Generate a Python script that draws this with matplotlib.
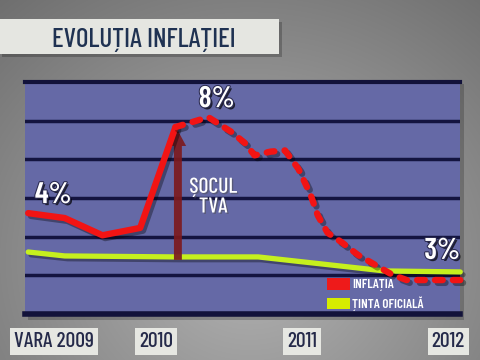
import numpy as np
import matplotlib
matplotlib.use("Agg")
import matplotlib.pyplot as plt
from matplotlib import patheffects as pe
from matplotlib.patches import Rectangle, FancyArrow, Patch

# ---------------- data ----------------
title = "EVOLUȚIA INFLAȚIEI"
tick_labels = ["VARA 2009", "2010", "2011", "2012"]
tick_months = [-8.4, 0, 12, 24]          # months relative to Jan 2010
legend_labels = ["INFLAȚIA", "ȚINTA OFICIALĂ"]

# inflation, actual (solid) – months rel. Jan 2010, level
infl_real_x = [-10.5, -7.5, -4.4, -1.3, 1.6]
infl_real_y = [4.1, 3.9, 3.2, 3.5, 7.6]
# inflation, forecast (dashed)
infl_prog_x = [1.6, 4.3, 6.2, 7.3, 8.1, 9.4, 10.6, 11.7, 12.7, 13.3, 14.1,
               15.3, 16.6, 18.0, 19.4, 20.6, 22.1, 23.7, 25.0]
infl_prog_y = [7.6, 8.0, 7.4, 6.95, 6.45, 6.6, 6.65, 5.9, 4.85, 4.0, 3.3,
               2.9, 2.4, 2.0, 1.6, 1.38, 1.38, 1.38, 1.38]
# official target
tinta_x = [-10.5, -7.5, 1.6, 8.4, 18.8, 25.0]
tinta_y = [2.52, 2.36, 2.32, 2.32, 1.75, 1.71]

value_labels = ["4%", "8%", "3%"]
shock_text = "ȘOCUL\nTVA"
shock_month = 1.8
shock_from, shock_to = 2.2, 7.45

# ---------------- fonts ----------------
plt.rcParams["font.family"] = ["Barlow Condensed", "DejaVu Sans"]

W, H = 480, 360
fig = plt.figure(figsize=(4.8, 3.6), dpi=100)

# background gradient
bg = fig.add_axes([0, 0, 1, 1], zorder=0)
yy, xx = np.mgrid[0:H, 0:W]
d = np.sqrt(((xx - 250) / 330.0) ** 2 + ((yy - 260) / 300.0) ** 2)
g = np.clip(0.70 - 0.23 * d, 0.38, 0.72)
bg.imshow(np.dstack([g, g, g]), extent=[0, W, H, 0], aspect="auto")
bg.set_xlim(0, W); bg.set_ylim(H, 0); bg.axis("off")

# title box
bg.add_patch(Rectangle((2, 22), 280, 35, fc="black", alpha=0.22, ec="none"))
bg.add_patch(Rectangle((0, 19), 279, 35, fc="#e5e6e1", ec="none"))
bg.text(143.5, 47, title, ha="center", va="baseline", fontsize=19.5,
        color="#1f3252", fontweight="medium")

# panel shadow
bg.add_patch(Rectangle((28, 84), 436, 236, fc="black", alpha=0.2, ec="none"))

# main axes
left, right, top, bottom = 25, 460, 82, 314
ax = fig.add_axes([left / W, 1 - bottom / H, (right - left) / W, (bottom - top) / H], zorder=2)
ax.set_facecolor("#6569a6")
px_month = 12.17
xmin = (left - 156) / px_month
xmax = (right - 156) / px_month
ax.set_xlim(xmin, xmax)
ymax = (bottom - top) / 24.6
ax.set_ylim(0, ymax)
for s in ["left", "right"]:
    ax.spines[s].set_visible(False)
ax.spines["top"].set_color("#12123a"); ax.spines["top"].set_linewidth(3)
ax.spines["bottom"].set_color("#12123a"); ax.spines["bottom"].set_linewidth(4)
ax.set_yticks(np.linspace(0, ymax, 7)[1:-1])
ax.yaxis.grid(True, color="#141440", lw=2.5)
ax.tick_params(axis="y", length=0, labelleft=False)

# x tick labels as boxes
ax.set_xticks(tick_months, tick_labels)
ax.tick_params(axis="x", length=0, pad=13, labelsize=15.5, labelcolor="#252a4a")
for t in ax.get_xticklabels():
    t.set_fontweight("medium")
    t.set_bbox(dict(boxstyle="square,pad=0.18", fc="#e6e7e2", ec="none"))

shadow = [pe.SimpleLineShadow(offset=(2, -2), alpha=0.35), pe.Normal()]

# target line
ax.plot(tinta_x, tinta_y, color="#c6f01e", lw=3.8, solid_capstyle="round",
        path_effects=shadow, zorder=3, clip_on=False)
# arrow
ax.add_patch(FancyArrow(shock_month, shock_from, 0, shock_to - shock_from,
                        width=0.65, head_width=1.35, head_length=0.62,
                        length_includes_head=True, fc="#7c1a1e", ec="none",
                        alpha=0.92, zorder=4))
# inflation lines
ax.plot(infl_real_x, infl_real_y, color="#f21414", lw=4.6, solid_capstyle="round",
        solid_joinstyle="round", path_effects=shadow, zorder=5)
ax.plot(infl_prog_x, infl_prog_y, color="#f21414", lw=4.6, linestyle=(0, (1.2, 1.6)),
        dash_capstyle="round", path_effects=shadow, zorder=5, clip_on=False)

# value labels
txt_fx = [pe.withSimplePatchShadow(offset=(1.5, -1.5), shadow_rgbFace="black", alpha=0.7),
          pe.withStroke(linewidth=1.5, foreground="#2a2a50")]
label_pts = [(infl_real_x[0], infl_real_y[0], (18, 13)),
             (infl_prog_x[1], infl_prog_y[1], (6, 13)),
             (infl_prog_x[-1], infl_prog_y[-1], (-13, 21))]
for lab, (x, y, off) in zip(value_labels, label_pts):
    ax.annotate(lab, (x, y), xytext=off, textcoords="offset points",
                ha="center", va="center", fontsize=21.5, fontweight="semibold",
                color="white", path_effects=txt_fx, zorder=6)

ax.text(4.7, 4.75, shock_text, ha="center", va="center", fontsize=15.5,
        fontweight="medium", color="white", linespacing=1.05,
        path_effects=[pe.withSimplePatchShadow(offset=(1, -1), alpha=0.5)], zorder=6)

# legend
handles = [Patch(fc="#ee1a1a", ec="none"), Patch(fc="#d6ec00", ec="none")]
leg = ax.legend(handles, legend_labels, loc="lower left", bbox_to_anchor=(0.683, -0.01),
                frameon=False, fontsize=9.5, handlelength=1.7, handleheight=1.0,
                handletextpad=0.2, labelspacing=0.4, borderaxespad=0)
for t in leg.get_texts():
    t.set_color("white"); t.set_fontweight("semibold")
leg.set_zorder(7)

fig.savefig("out.png", dpi=100)
